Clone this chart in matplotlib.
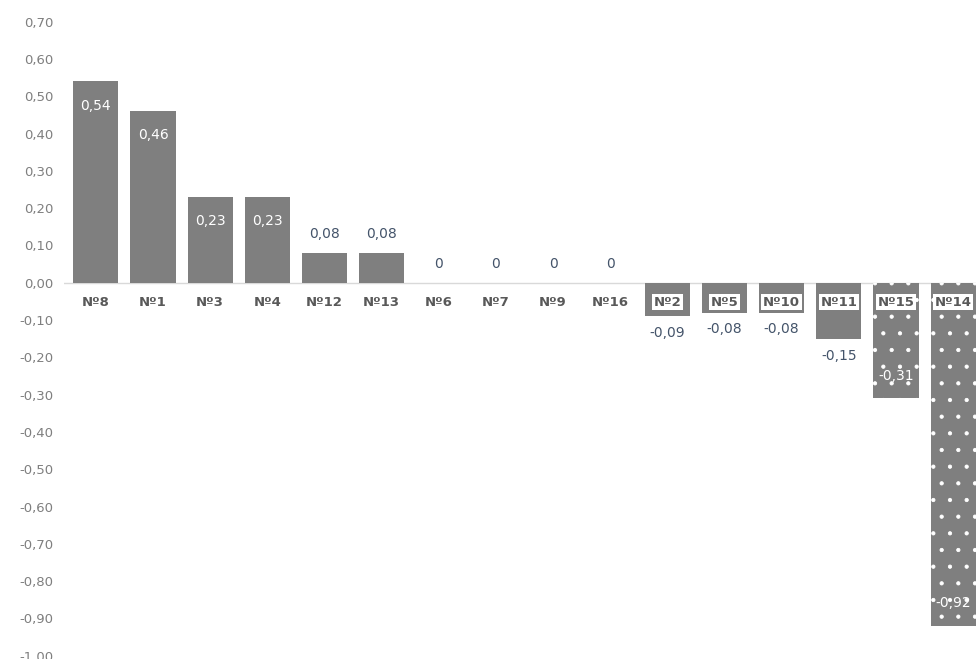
import matplotlib.pyplot as plt
import numpy as np

categories = ['Nº8', 'Nº1', 'Nº3', 'Nº4', 'Nº12', 'Nº13', 'Nº6', 'Nº7',
              'Nº9', 'Nº16', 'Nº2', 'Nº5', 'Nº10', 'Nº11', 'Nº15', 'Nº14']
values = [0.54, 0.46, 0.23, 0.23, 0.08, 0.08, 0, 0,
          0, 0, -0.09, -0.08, -0.08, -0.15, -0.31, -0.92]
dotted = ['Nº15', 'Nº14']
y_ticks = np.round(np.arange(-1.0, 0.71, 0.1), 2)

BAR = '#7f7f7f'
DARK = '#44546a'


def _fmt(v):
    if v == 0:
        return '0'
    return f'{v:.2f}'.replace('.', ',')


def _main():
    plt.rcParams['hatch.color'] = 'white'
    plt.rcParams['hatch.linewidth'] = 0.6
    fig = plt.figure(figsize=(9.76, 6.59), dpi=100)
    ax = fig.add_axes([0.066, 0.005, 0.934, 0.962])

    x = np.arange(len(categories))
    bars = ax.bar(x, values, width=0.79, color=BAR, linewidth=0, zorder=2)
    for b, c in zip(bars, categories):
        if c in dotted:
            b.set_hatch('.')
            b.set_edgecolor('white')

    ax.axhline(0, color='#d9d9d9', linewidth=1, zorder=1)
    ax.set_xlim(-0.55, len(categories) - 0.6)
    ax.set_ylim(-1.0, 0.7)
    ax.set_yticks(y_ticks)
    ax.set_yticklabels([_fmt(v) if v != 0 else '0,00' for v in y_ticks])
    ax.tick_params(axis='y', length=0, labelsize=9.5, labelcolor='#7f7f7f', pad=8)
    ax.set_xticks([])
    for s in ax.spines.values():
        s.set_visible(False)

    for xi, v, c in zip(x, values, categories):
        # category label just under the zero line
        box = dict(facecolor='white', edgecolor='none', pad=1.2) if v < 0 else None
        ax.text(xi, -0.052, c, ha='center', va='center', fontsize=9.5,
                fontweight='bold', color='#595959', bbox=box, zorder=4)
        # value label
        if abs(v) >= 0.2:
            if v > 0:
                ax.text(xi, v - 0.065, _fmt(v), ha='center', va='center',
                        fontsize=10, color='white', zorder=4)
            else:
                ax.text(xi, v + 0.06, _fmt(v), ha='center', va='center',
                        fontsize=10, color='white', zorder=4)
        else:
            if v >= 0:
                ax.text(xi, v + 0.05, _fmt(v), ha='center', va='center',
                        fontsize=10, color=DARK, zorder=4)
            else:
                ax.text(xi, v - 0.045, _fmt(v), ha='center', va='center',
                        fontsize=10, color=DARK, zorder=4)

    fig.savefig('out.png', dpi=100)


if __name__ == '__main__':
    _main()
